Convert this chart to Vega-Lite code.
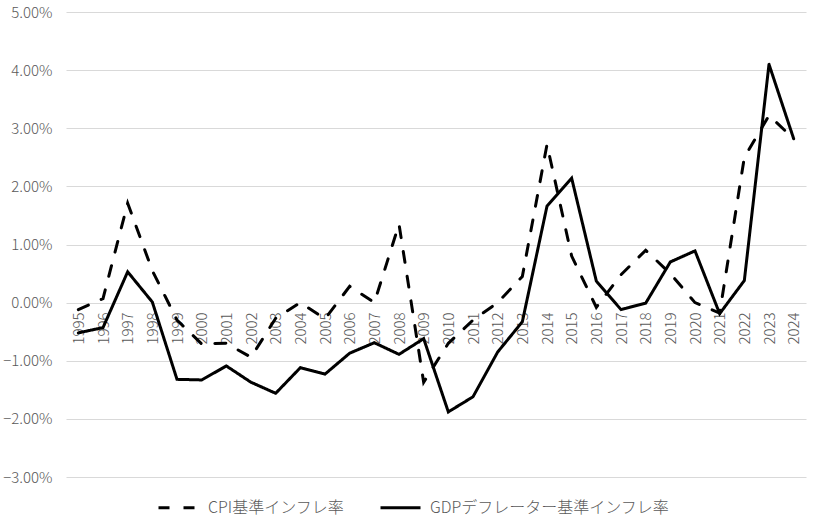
{
  "$schema": "https://vega.github.io/schema/vega-lite/v6.json",
  "autosize": {"type": "none"},
  "width": 740,
  "height": 465,
  "padding": {"left": 66, "top": 12, "right": 9, "bottom": 44},
  "background": "white",
  "config": {
    "view": {"stroke": null},
    "font": "Noto Sans CJK JP"
  },
  "data": {
    "values": [
      {"year": "1995", "series": "CPI基準インフレ率", "value": -0.0012},
      {"year": "1996", "series": "CPI基準インフレ率", "value": 0.0007},
      {"year": "1997", "series": "CPI基準インフレ率", "value": 0.0171},
      {"year": "1998", "series": "CPI基準インフレ率", "value": 0.0055},
      {"year": "1999", "series": "CPI基準インフレ率", "value": -0.0030},
      {"year": "2000", "series": "CPI基準インフレ率", "value": -0.0071},
      {"year": "2001", "series": "CPI基準インフレ率", "value": -0.0070},
      {"year": "2002", "series": "CPI基準インフレ率", "value": -0.0094},
      {"year": "2003", "series": "CPI基準インフレ率", "value": -0.0027},
      {"year": "2004", "series": "CPI基準インフレ率", "value": 0.0000},
      {"year": "2005", "series": "CPI基準インフレ率", "value": -0.0028},
      {"year": "2006", "series": "CPI基準インフレ率", "value": 0.0028},
      {"year": "2007", "series": "CPI基準インフレ率", "value": 0.0000},
      {"year": "2008", "series": "CPI基準インフレ率", "value": 0.0135},
      {"year": "2009", "series": "CPI基準インフレ率", "value": -0.0137},
      {"year": "2010", "series": "CPI基準インフレ率", "value": -0.0070},
      {"year": "2011", "series": "CPI基準インフレ率", "value": -0.0030},
      {"year": "2012", "series": "CPI基準インフレ率", "value": 0.0000},
      {"year": "2013", "series": "CPI基準インフレ率", "value": 0.0045},
      {"year": "2014", "series": "CPI基準インフレ率", "value": 0.0272},
      {"year": "2015", "series": "CPI基準インフレ率", "value": 0.0080},
      {"year": "2016", "series": "CPI基準インフレ率", "value": -0.0008},
      {"year": "2017", "series": "CPI基準インフレ率", "value": 0.0048},
      {"year": "2018", "series": "CPI基準インフレ率", "value": 0.0090},
      {"year": "2019", "series": "CPI基準インフレ率", "value": 0.0050},
      {"year": "2020", "series": "CPI基準インフレ率", "value": 0.0000},
      {"year": "2021", "series": "CPI基準インフレ率", "value": -0.0018},
      {"year": "2022", "series": "CPI基準インフレ率", "value": 0.0250},
      {"year": "2023", "series": "CPI基準インフレ率", "value": 0.0322},
      {"year": "2024", "series": "CPI基準インフレ率", "value": 0.0282},
      {"year": "1995", "series": "GDPデフレーター基準インフレ率", "value": -0.0052},
      {"year": "1996", "series": "GDPデフレーター基準インフレ率", "value": -0.0043},
      {"year": "1997", "series": "GDPデフレーター基準インフレ率", "value": 0.0053},
      {"year": "1998", "series": "GDPデフレーター基準インフレ率", "value": 0.0001},
      {"year": "1999", "series": "GDPデフレーター基準インフレ率", "value": -0.0132},
      {"year": "2000", "series": "GDPデフレーター基準インフレ率", "value": -0.0133},
      {"year": "2001", "series": "GDPデフレーター基準インフレ率", "value": -0.0109},
      {"year": "2002", "series": "GDPデフレーター基準インフレ率", "value": -0.0137},
      {"year": "2003", "series": "GDPデフレーター基準インフレ率", "value": -0.0156},
      {"year": "2004", "series": "GDPデフレーター基準インフレ率", "value": -0.0112},
      {"year": "2005", "series": "GDPデフレーター基準インフレ率", "value": -0.0123},
      {"year": "2006", "series": "GDPデフレーター基準インフレ率", "value": -0.0087},
      {"year": "2007", "series": "GDPデフレーター基準インフレ率", "value": -0.0069},
      {"year": "2008", "series": "GDPデフレーター基準インフレ率", "value": -0.0089},
      {"year": "2009", "series": "GDPデフレーター基準インフレ率", "value": -0.0062},
      {"year": "2010", "series": "GDPデフレーター基準インフレ率", "value": -0.0188},
      {"year": "2011", "series": "GDPデフレーター基準インフレ率", "value": -0.0162},
      {"year": "2012", "series": "GDPデフレーター基準インフレ率", "value": -0.0085},
      {"year": "2013", "series": "GDPデフレーター基準インフレ率", "value": -0.0033},
      {"year": "2014", "series": "GDPデフレーター基準インフレ率", "value": 0.0166},
      {"year": "2015", "series": "GDPデフレーター基準インフレ率", "value": 0.0214},
      {"year": "2016", "series": "GDPデフレーター基準インフレ率", "value": 0.0037},
      {"year": "2017", "series": "GDPデフレーター基準インフレ率", "value": -0.0012},
      {"year": "2018", "series": "GDPデフレーター基準インフレ率", "value": -0.0001},
      {"year": "2019", "series": "GDPデフレーター基準インフレ率", "value": 0.0070},
      {"year": "2020", "series": "GDPデフレーター基準インフレ率", "value": 0.0089},
      {"year": "2021", "series": "GDPデフレーター基準インフレ率", "value": -0.0019},
      {"year": "2022", "series": "GDPデフレーター基準インフレ率", "value": 0.0038},
      {"year": "2023", "series": "GDPデフレーター基準インフレ率", "value": 0.0410},
      {"year": "2024", "series": "GDPデフレーター基準インフレ率", "value": 0.0282}
    ]
  },
  "mark": {"type": "line", "strokeWidth": 3, "color": "black", "strokeCap": "round", "strokeJoin": "miter"},
  "encoding": {
    "x": {
      "field": "year",
      "type": "ordinal",
      "scale": {"type": "point", "padding": 0.5},
      "axis": {
        "title": null,
        "orient": "bottom",
        "offset": -175,
        "domain": false,
        "ticks": false,
        "grid": false,
        "labelAngle": -90,
        "labelPadding": 10,
        "labelFontSize": 15,
        "labelFontWeight": 300,
        "labelColor": "#595959",
        "labelFont": "Noto Sans CJK JP"
      }
    },
    "y": {
      "field": "value",
      "type": "quantitative",
      "scale": {"domain": [-0.03, 0.05], "nice": false, "zero": false},
      "axis": {
        "title": null,
        "values": [-0.03, -0.02, -0.01, 0, 0.01, 0.02, 0.03, 0.04, 0.05],
        "format": ".2%",
        "domain": false,
        "ticks": false,
        "grid": true,
        "gridColor": "#d9d9d9",
        "gridWidth": 1,
        "labelPadding": 14,
        "labelFontSize": 15,
        "labelFontWeight": 300,
        "labelColor": "#595959",
        "labelFont": "Noto Sans CJK JP"
      }
    },
    "strokeDash": {
      "field": "series",
      "type": "nominal",
      "scale": {
        "domain": ["CPI基準インフレ率", "GDPデフレーター基準インフレ率"],
        "range": [[11, 14], [1, 0]]
      },
      "legend": {
        "title": null,
        "orient": "none",
        "direction": "horizontal",
        "legendX": 91,
        "legendY": 474,
        "symbolType": "stroke",
        "symbolSize": 1600,
        "symbolStrokeWidth": 3,
        "symbolStrokeColor": "black",
        "labelFontSize": 16,
        "labelFontWeight": 300,
        "labelColor": "#595959",
        "labelFont": "Noto Sans CJK JP",
        "labelOffset": 8,
        "columnPadding": 29,
        "labelLimit": 400
      }
    }
  }
}
